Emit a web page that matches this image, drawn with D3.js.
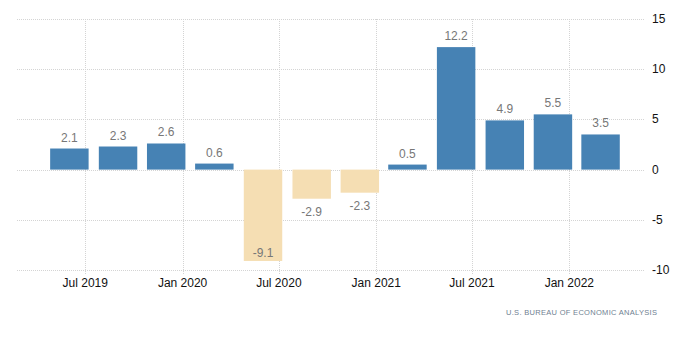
<!DOCTYPE html>
<html>
<head>
<meta charset="utf-8">
<script src="https://cdn.jsdelivr.net/npm/d3@7"></script>
<style>
    body { margin: 0; background: #fff; }
    text { font-family: "Liberation Sans", Arial, sans-serif; }
</style>
</head>
<body>
<script>
// quarterly GDP growth, bars sit on the quarter's last month
var quarters = ["2019-06", "2019-09", "2019-12", "2020-03", "2020-06",
    "2020-09", "2020-12", "2021-03", "2021-06", "2021-09", "2021-12",
    "2022-03"];
var growth = [2.1, 2.3, 2.6, 0.6, -9.1, -2.9, -2.3, 0.5, 12.2, 4.9, 5.5, 3.5];
var yTicks = [-10, -5, 0, 5, 10, 15];
var xTicks = ["2019-07", "2020-01", "2020-07", "2021-01", "2021-07", "2022-01"];
var source = "U.S. BUREAU OF ECONOMIC ANALYSIS";

var W = 700, H = 359;
var margin = {top: 19, right: 55, bottom: 89, left: 17},
    width = W - margin.left - margin.right,
    height = H - margin.top - margin.bottom;

var parse = d3.utcParse("%Y-%m");
var data = quarters.map(function(q, i) {
    return {date: parse(q), value: growth[i]};
});

var svg = d3.select("body").append("svg")
    .attr("width", W)
    .attr("height", H);

var g = svg.append("g")
    .attr("transform", "translate(" + margin.left + "," + margin.top + ")");

var xScale = d3.scaleUtc()
    .domain([new Date(Date.UTC(2019, 1, 22)), new Date(Date.UTC(2022, 4, 24))])
    .range([0, width]);
var yScale = d3.scaleLinear().domain([-10, 15]).range([height, 0]);

// grid
g.selectAll(".hgrid").data(yTicks).enter().append("line")
    .attr("x1", 0).attr("x2", width)
    .attr("y1", function(d) { return Math.round(yScale(d)) + 0.5; })
    .attr("y2", function(d) { return Math.round(yScale(d)) + 0.5; })
    .attr("stroke", "#d4d4d4")
    .attr("stroke-dasharray", "1,1");

g.selectAll(".vgrid").data(xTicks).enter().append("line")
    .attr("x1", function(d) { return Math.round(xScale(parse(d))) + 0.5; })
    .attr("x2", function(d) { return Math.round(xScale(parse(d))) + 0.5; })
    .attr("y1", 0).attr("y2", height + 5)
    .attr("stroke", "#d4d4d4")
    .attr("stroke-dasharray", "1,1");

// bars
var step = xScale(data[1].date) - xScale(data[0].date);
var barW = step * 0.79;

g.selectAll("rect").data(data).enter().append("rect")
    .attr("x", function(d) { return xScale(d.date) - barW / 2; })
    .attr("y", function(d) { return yScale(Math.max(0, d.value)); })
    .attr("width", barW)
    .attr("height", function(d) {
        return Math.abs(yScale(d.value) - yScale(0));
    })
    .attr("fill", function(d) { return d.value < 0 ? "#f5deb3" : "#4682b4"; });

// value labels
g.selectAll(".lbl").data(data).enter().append("text")
    .attr("x", function(d) { return xScale(d.date); })
    .attr("y", function(d) {
        if (d.value >= 0) return yScale(d.value) - 7;
        var y = yScale(d.value) + 17;
        // pushed inside the bar if it would run off the plot
        return y > height ? yScale(d.value) - 4 : y;
    })
    .attr("text-anchor", "middle")
    .attr("font-size", "12px")
    .attr("fill", "#777")
    .text(function(d) { return d.value; });

// x axis labels
var fmt = d3.utcFormat("%b %Y");
g.selectAll(".xl").data(xTicks).enter().append("text")
    .attr("x", function(d) { return xScale(parse(d)); })
    .attr("y", height + 17)
    .attr("text-anchor", "middle")
    .attr("font-size", "12px")
    .attr("fill", "#111")
    .text(function(d) { return fmt(parse(d)); });

// y axis labels, on the right
g.selectAll(".yl").data(yTicks).enter().append("text")
    .attr("x", width + 7)
    .attr("y", function(d) { return yScale(d) + 4; })
    .attr("font-size", "12px")
    .attr("fill", "#111")
    .text(function(d) { return d; });

svg.append("text")
    .attr("x", 506)
    .attr("y", 315)
    .attr("font-size", "7.5px")
    .attr("textLength", 151)
    .attr("lengthAdjust", "spacing")
    .attr("fill", "#6f7f92")
    .text(source);
</script>
</body>
</html>
